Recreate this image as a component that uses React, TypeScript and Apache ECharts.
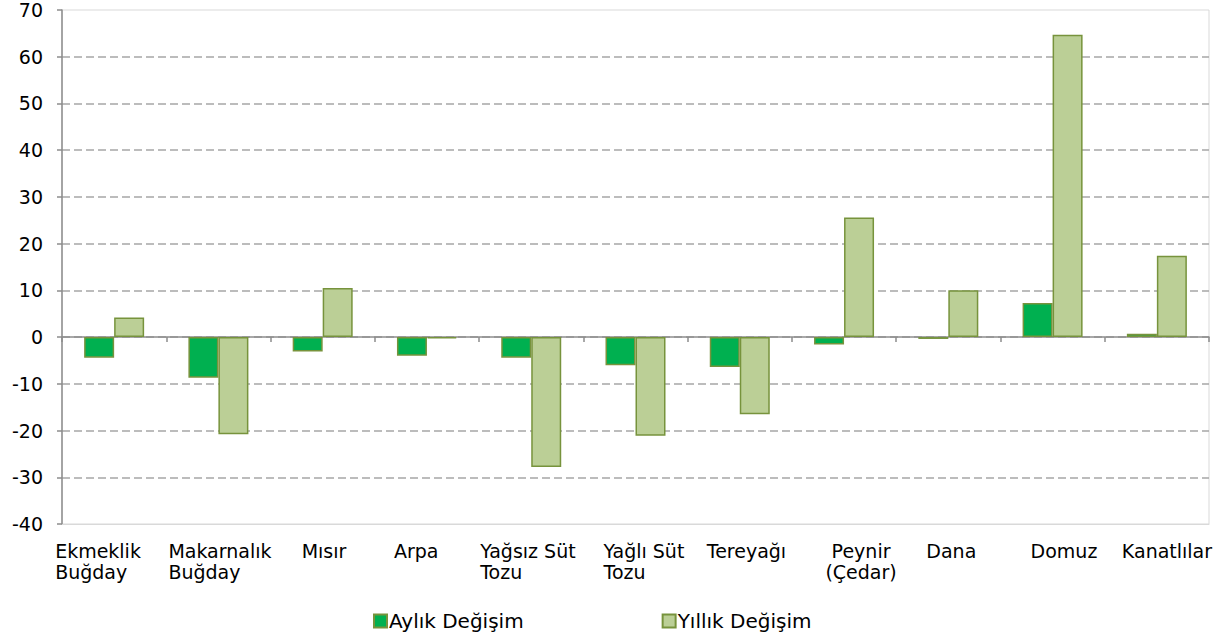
import React, { useEffect, useRef } from "react";
import * as echarts from "echarts";

const categories = [
  "Ekmeklik\nBuğday",
  "Makarnalık\nBuğday",
  "Mısır",
  "Arpa",
  "Yağsız Süt\nTozu",
  "Yağlı Süt\nTozu",
  "Tereyağı",
  "Peynir\n(Çedar)",
  "Dana",
  "Domuz",
  "Kanatlılar",
];
const aylik = [-4.4, -8.7, -3.1, -4.0, -4.4, -6.0, -6.4, -1.6, -0.4, 7.3, 0.7];
const yillik = [4.2, -20.8, 10.5, -0.3, -27.8, -21.1, -16.5, 25.6, 10.0, 64.7, 17.4];
const yTicks = { min: -40, max: 70, interval: 10 };

// label layout (style only): how far left of the category centre each label starts
const labelLeftShift = [59, 50, 21, 33, 51, 32, 33, 0, 22, 22, 35];
const centeredLabelShift = [0, 0, 0, 0, 0, 0, 0, 34, 0, 0, 0];

const FONT = "'DejaVu Sans', Verdana, sans-serif";

export default function App() {
  const ref = useRef<HTMLDivElement>(null);
  useEffect(() => {
    if (!ref.current) return;
    const chart = echarts.init(ref.current, null, { renderer: "svg" });
    const rich: Record<string, any> = {};
    categories.forEach((_, i) => {
      if (labelLeftShift[i] > 0) {
        rich["l" + i] = {
          width: labelLeftShift[i] * 2,
          align: "left",
          fontSize: 19,
          lineHeight: 21,
          color: "#000",
          fontFamily: FONT,
        };
      } else {
        rich["l" + i] = {
          align: "center",
          padding: [0, 0, 0, centeredLabelShift[i]],
          fontSize: 19,
          lineHeight: 21,
          color: "#000",
          fontFamily: FONT,
        };
      }
    });
    chart.setOption({
      animation: false,
      textStyle: { fontFamily: FONT, color: "#000" },
      grid: { left: 62, right: 23, top: 10, bottom: 118, show: true, borderColor: "#D9D9D9", borderWidth: 1 },
      legend: {
        left: 373,
        top: 611,
        padding: 0,
        icon: "rect",
        itemWidth: 13,
        itemHeight: 13,
        itemGap: 138,
        textStyle: { fontFamily: FONT, fontSize: 20, color: "#000", padding: [0, 0, 0, -3] },
        data: ["Aylık Değişim", "Yıllık Değişim"],
      },
      xAxis: [
        {
          type: "category",
          data: categories,
          position: "bottom",
          axisLine: { onZero: false, lineStyle: { color: "#D9D9D9" } },
          axisTick: { show: false },
          axisLabel: {
            interval: 0,
            margin: 16,
            fontSize: 19,
            lineHeight: 21,
            color: "#000",
            fontFamily: FONT,
            formatter: (value: string, index: number) =>
              value
                .split("\n")
                .map((line) => `{l${index}|${line}}`)
                .join("\n"),
            rich,
          },
        },
        {
          type: "category",
          data: categories,
          position: "bottom",
          axisLine: { onZero: true, lineStyle: { color: "#8C8C8C", width: 1.5 } },
          axisTick: { show: true, inside: false, length: 5, lineStyle: { color: "#8C8C8C", width: 1.5 } },
          axisLabel: { show: false },
        },
      ],
      yAxis: {
        type: "value",
        min: yTicks.min,
        max: yTicks.max,
        interval: yTicks.interval,
        axisLine: { show: true, lineStyle: { color: "#8C8C8C", width: 1.5 } },
        axisTick: { show: true, length: 5, lineStyle: { color: "#8C8C8C", width: 1.5 } },
        axisLabel: { margin: 19, fontSize: 19, color: "#000", fontFamily: FONT },
        splitLine: {
          show: true,
          showMinLine: false,
          showMaxLine: false,
          lineStyle: { color: "#A6A6A6", type: [8, 4], width: 1.5 },
        },
      },
      series: [
        {
          name: "Aylık Değişim",
          type: "bar",
          data: aylik,
          barWidth: 30,
          barGap: "0%",
          itemStyle: { color: "#00B050", borderColor: "#77933C", borderWidth: 1.5 },
        },
        {
          name: "Yıllık Değişim",
          type: "bar",
          data: yillik,
          barWidth: 30,
          barGap: "0%",
          itemStyle: { color: "#BBCF96", borderColor: "#77933C", borderWidth: 1.5 },
        },
      ],
    });
    return () => chart.dispose();
  }, []);
  return <div ref={ref} style={{ width: 1232, height: 642, position: "absolute", left: 0, top: 0 }} />;
}
